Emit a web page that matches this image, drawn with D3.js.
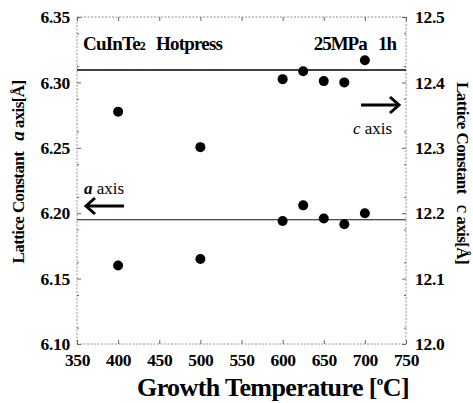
<!DOCTYPE html>
<html><head><meta charset="utf-8">
<script src="https://cdn.jsdelivr.net/npm/d3@7"></script>
<style>body{margin:0;background:#fff}svg{display:block}text{font-family:"Liberation Serif","Times New Roman",serif}</style>
</head><body>
<svg id="c" width="473" height="403"></svg>
<script>
const temps = [400, 500, 600, 625, 650, 675, 700];
const aAxis = [6.160, 6.165, 6.194, 6.206, 6.196, 6.1915, 6.200];
const cAxis = [12.355, 12.301, 12.405, 12.417, 12.402, 12.400, 12.434];
const aRef = 6.195;
const cRef = 12.419;
const xTicks = [350, 400, 450, 500, 550, 600, 650, 700, 750];
const aTicks = [6.10, 6.15, 6.20, 6.25, 6.30, 6.35];
const cTicks = [12.0, 12.1, 12.2, 12.3, 12.4, 12.5];

const svg = d3.select("#c");
const L = 77, R = 406, T = 17, B = 344;
const x = d3.scaleLinear().domain([350, 750]).range([L, R]);
const ya = d3.scaleLinear().domain([6.10, 6.35]).range([B, T]);
const yc = d3.scaleLinear().domain([12.0, 12.5]).range([B, T]);

svg.append("rect").attr("x", L).attr("y", T).attr("width", R - L).attr("height", B - T)
  .attr("fill", "none").attr("stroke", "#777").attr("stroke-width", 0.8).attr("stroke-dasharray", "2,1.5");

const fmtA = d3.format(".2f"), fmtC = d3.format(".1f");
const ax = svg.append("g").attr("transform", `translate(0,${B})`)
  .call(d3.axisBottom(x).tickValues(xTicks).tickSize(-4).tickPadding(10).tickFormat(d3.format("d")));
const axTop = svg.append("g").attr("transform", `translate(0,${T})`)
  .call(d3.axisTop(x).tickValues(xTicks).tickSize(-4).tickFormat(""));
const ayl = svg.append("g").attr("transform", `translate(${L},0)`)
  .call(d3.axisLeft(ya).tickValues(aTicks).tickSize(-4).tickPadding(7).tickFormat(fmtA));
const ayr = svg.append("g").attr("transform", `translate(${R},0)`)
  .call(d3.axisRight(yc).tickValues(cTicks).tickSize(-4).tickPadding(9).tickFormat(fmtC));
const minorA = d3.range(6.1125, 6.35, 0.025);
svg.append("g").attr("transform", `translate(${L},0)`).call(d3.axisLeft(ya).tickValues(minorA).tickSize(-2).tickFormat(""));
svg.append("g").attr("transform", `translate(${R},0)`).call(d3.axisRight(ya).tickValues(minorA).tickSize(-2).tickFormat(""));
[ayl, ayr].forEach(g => {
  g.selectAll("text").attr("font-size", 17.5).attr("font-weight", "bold").attr("fill", "#000").attr("letter-spacing", "-0.3");
});
ax.selectAll("text").attr("font-size", 17.5).attr("font-weight", "bold").attr("fill", "#000").attr("letter-spacing", "-0.4");
svg.selectAll(".domain").remove();
svg.selectAll("g line").attr("stroke", "#666");

svg.append("line").attr("x1", L).attr("x2", R).attr("y1", yc(cRef)).attr("y2", yc(cRef)).attr("stroke", "#000").attr("stroke-width", 1.5);
svg.append("line").attr("x1", L).attr("x2", R).attr("y1", ya(aRef)).attr("y2", ya(aRef)).attr("stroke", "#111").attr("stroke-width", 1.2);

svg.append("g").selectAll("circle").data(temps).join("circle")
  .attr("cx", (d) => x(d)).attr("cy", (d, i) => ya(aAxis[i])).attr("r", 5).attr("fill", "#000");
svg.append("g").selectAll("circle").data(temps).join("circle")
  .attr("cx", (d) => x(d)).attr("cy", (d, i) => yc(cAxis[i])).attr("r", 5).attr("fill", "#000");

const t1 = svg.append("text").attr("x", 83).attr("y", 50).attr("font-size", 19).attr("font-weight", "bold").attr("letter-spacing", "-0.8");
t1.append("tspan").text("CuInTe");
t1.append("tspan").attr("font-size", 12).text("2");
t1.append("tspan").attr("dx", 11).text("Hotpress");
svg.append("text").attr("x", 396).attr("y", 50).attr("text-anchor", "end").attr("font-size", 19).attr("font-weight", "bold").attr("letter-spacing", "-1")
  .text("25MPa\u00a0\u00a0 1h");

const ta = svg.append("text").attr("x", 84).attr("y", 194).attr("font-size", 17);
ta.append("tspan").attr("font-style", "italic").attr("font-weight", "bold").text("a");
ta.append("tspan").text(" axis");
const tc = svg.append("text").attr("x", 353).attr("y", 134).attr("font-size", 17);
tc.append("tspan").attr("font-style", "italic").text("c");
tc.append("tspan").text(" axis");

function arrow(x1, x2, y) {
  svg.append("line").attr("x1", x1).attr("x2", x2).attr("y1", y).attr("y2", y).attr("stroke", "#000").attr("stroke-width", 3);
  const dir = Math.sign(x2 - x1);
  svg.append("path").attr("d", `M${x2 - dir * 9},${y - 8} L${x2},${y} L${x2 - dir * 9},${y + 8}`)
    .attr("fill", "none").attr("stroke", "#000").attr("stroke-width", 3);
}
arrow(124, 86, 206);
arrow(361, 399, 105);

const xt = svg.append("text").attr("x", 273).attr("y", 396).attr("text-anchor", "middle").attr("font-size", 26).attr("font-weight", "bold").attr("letter-spacing", "-0.6");
xt.append("tspan").text("Growth Temperature [");
xt.append("tspan").attr("font-size", 13).attr("dy", -11).text("o");
xt.append("tspan").attr("dy", 11).text("C]");

const yl = svg.append("text").attr("transform", "translate(24,172) rotate(-90)").attr("text-anchor", "middle").attr("font-size", 17).attr("font-weight", "bold").attr("letter-spacing", "-0.6");
yl.append("tspan").text("Lattice Constant\u00a0\u00a0\u00a0");
yl.append("tspan").attr("font-style", "italic").attr("font-size", 19).text("a");
yl.append("tspan").text("\u00a0axis[Å]");

const yr = svg.append("text").attr("transform", "translate(457,173) rotate(90)").attr("text-anchor", "middle").attr("font-size", 17).attr("font-weight", "bold").attr("letter-spacing", "-0.6");
yr.append("tspan").text("Lattice Constant\u00a0\u00a0\u00a0");
yr.append("tspan").attr("font-weight", "normal").attr("font-size", 19).text("c");
yr.append("tspan").text("\u00a0axis[Å]");
</script>
</body></html>
